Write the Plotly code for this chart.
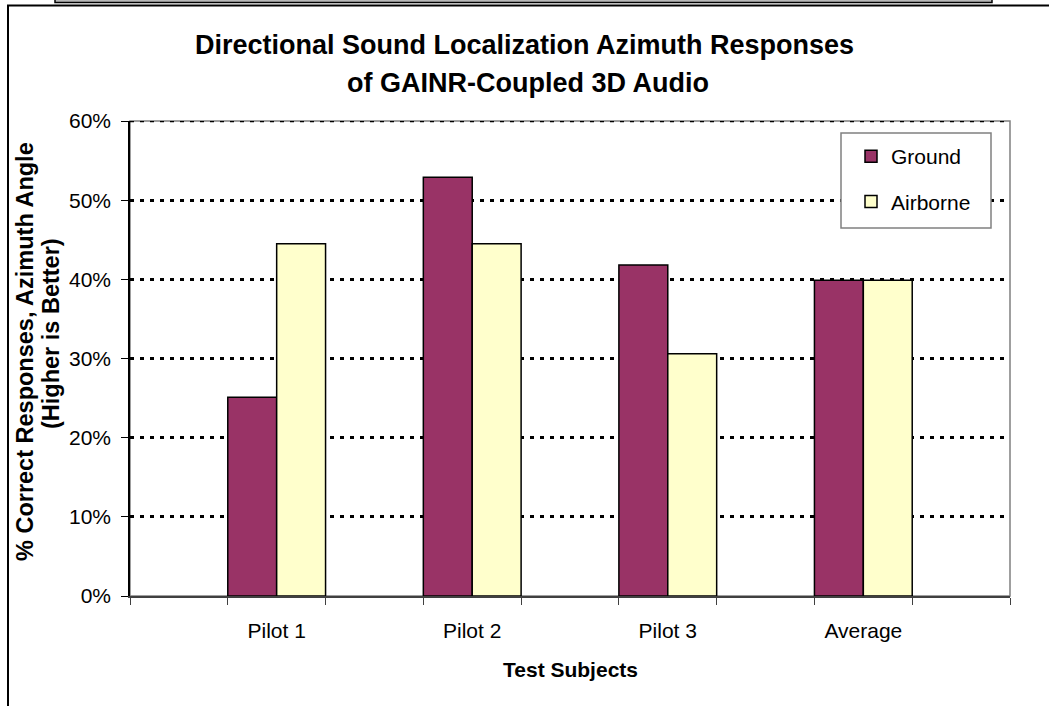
import plotly.graph_objects as go

# Chart data (percent of correct azimuth responses)
categories = ["Pilot 1", "Pilot 2", "Pilot 3", "Average"]
ground = [25.1, 52.9, 41.8, 39.9]
airborne = [44.5, 44.5, 30.6, 39.9]
y_ticks = [0, 10, 20, 30, 40, 50, 60]

FONT = "Liberation Sans, Arial, sans-serif"
W, H = 1049, 706
ML, MR, MT, MB = 130, 39, 121, 110
PW, PH = W - ML - MR, H - MT - MB
GRID_DASH = "4px,6px"

# Each category sits in an odd slot with an empty slot on either side
slots = [2 * i + 1 for i in range(len(categories))]


def px_x(px):
    return (px - ML) / PW


def px_y(py):
    return (MT + PH - py) / PH


fig = go.Figure()
fig.add_trace(go.Bar(
    x=slots, y=ground, name="Ground", width=0.5, offset=-0.5,
    marker=dict(color="#993366", line=dict(color="black", width=1.5)),
    legendgroup="g",
))
fig.add_trace(go.Bar(
    x=slots, y=airborne, name="Airborne", width=0.5, offset=0.0,
    marker=dict(color="#FFFFCC", line=dict(color="black", width=1.5)),
    legendgroup="a",
))

shapes = [
    # plot area frame
    dict(type="rect", xref="paper", yref="paper", x0=0, x1=1, y0=0, y1=1,
         line=dict(color="#808080", width=1.5), layer="below"),
    # gridline along the top of the value range
    dict(type="line", xref="paper", yref="y", x0=0, x1=1,
         y0=y_ticks[-1], y1=y_ticks[-1],
         line=dict(color="black", width=2.5, dash=GRID_DASH), layer="below"),
    # legend box
    dict(type="rect", xref="paper", yref="paper",
         x0=px_x(841), x1=px_x(991), y0=px_y(228), y1=px_y(133),
         line=dict(color="#808080", width=1.5), fillcolor="white", layer="above"),
    # outer chart-area edges
    dict(type="rect", xref="paper", yref="paper",
         x0=px_x(55), x1=px_x(992), y0=px_y(2.5), y1=px_y(-4),
         line=dict(color="black", width=1.5), fillcolor="#b8b8b8"),
    dict(type="line", xref="paper", yref="paper",
         x0=px_x(7), x1=px_x(1052), y0=px_y(5.5), y1=px_y(5.5),
         line=dict(color="black", width=2)),
    dict(type="line", xref="paper", yref="paper",
         x0=px_x(8), x1=px_x(8), y0=px_y(5), y1=px_y(710),
         line=dict(color="black", width=2)),
]

annotations = [
    dict(text="<b>Directional Sound Localization Azimuth Responses</b>",
         xref="paper", yref="paper", x=px_x(524), y=px_y(45),
         xanchor="center", yanchor="middle", showarrow=False,
         font=dict(family=FONT, size=27, color="black")),
    dict(text="<b>of GAINR-Coupled 3D Audio</b>",
         xref="paper", yref="paper", x=px_x(528), y=px_y(83),
         xanchor="center", yanchor="middle", showarrow=False,
         font=dict(family=FONT, size=27, color="black")),
    dict(text="<b>% Correct Responses, Azimuth Angle</b>",
         xref="paper", yref="paper", x=px_x(25), y=px_y(352),
         xanchor="center", yanchor="middle", showarrow=False, textangle=-90,
         font=dict(family=FONT, size=23.5, color="black")),
    dict(text="<b>(Higher is Better)</b>",
         xref="paper", yref="paper", x=px_x(51), y=px_y(334),
         xanchor="center", yanchor="middle", showarrow=False, textangle=-90,
         font=dict(family=FONT, size=23.5, color="black")),
    dict(text="<b>Test Subjects</b>",
         xref="paper", yref="paper", x=px_x(570), y=px_y(669),
         xanchor="center", yanchor="middle", showarrow=False,
         font=dict(family=FONT, size=21, color="black")),
]

fig.update_layout(
    width=W, height=H,
    margin=dict(l=ML, r=MR, t=MT, b=MB, pad=0),
    paper_bgcolor="white", plot_bgcolor="white",
    font=dict(family=FONT, size=21, color="black"),
    barmode="overlay",
    showlegend=True,
    legend=dict(
        x=px_x(851), y=px_y(136), xanchor="left", yanchor="top",
        bgcolor="rgba(0,0,0,0)", borderwidth=0,
        traceorder="grouped", tracegroupgap=15,
        font=dict(family=FONT, size=21, color="black"),
        itemwidth=30,
    ),
    xaxis=dict(
        range=[-0.5, 8.5], tickmode="array", tickvals=slots, ticktext=categories,
        ticks="", showgrid=False, zeroline=False,
        showline=True, linecolor="#404040", linewidth=1.5,
        minor=dict(tick0=-0.5, dtick=1, ticks="outside", ticklen=7,
                   tickcolor="#404040", tickwidth=1, showgrid=False),
        ticklabelstandoff=15,
        tickfont=dict(family=FONT, size=21, color="black"),
        fixedrange=True,
    ),
    yaxis=dict(
        range=[0, 60], tickmode="array", tickvals=y_ticks,
        ticktext=[f"{v}%" for v in y_ticks],
        ticks="outside", ticklen=7, tickcolor="black", tickwidth=1,
        showline=True, linecolor="black", linewidth=1.5,
        showgrid=True, gridcolor="black", gridwidth=2.5, griddash=GRID_DASH,
        zeroline=False, ticklabelstandoff=6,
        tickfont=dict(family=FONT, size=21, color="black"),
        fixedrange=True,
    ),
    shapes=shapes,
    annotations=annotations,
)

fig.write_html("out.html")
